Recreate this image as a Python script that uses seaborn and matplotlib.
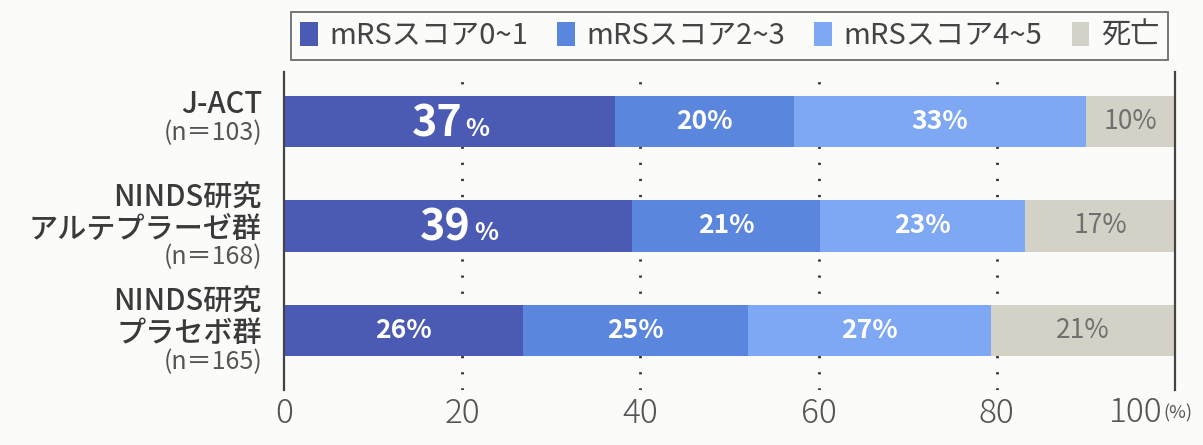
import matplotlib
matplotlib.use("Agg")
import matplotlib.pyplot as plt
import seaborn as sns
from matplotlib.patches import Patch

# data
groups = ["J-ACT", "NINDS研究\nアルテプラーゼ群", "NINDS研究\nプラセボ群"]
n_labels = ["(n＝103)", "(n＝168)", "(n＝165)"]
categories = ["mRSスコア0~1", "mRSスコア2~3", "mRSスコア4~5", "死亡"]
# segment widths as drawn (percent)
score01 = [37.1, 39.1, 26.8]
score23 = [20.1, 21.1, 25.3]
score45 = [32.8, 23.0, 27.2]
death = [10.0, 16.8, 20.7]
# printed percentages
pct01 = [37, 39, 26]
pct23 = [20, 21, 25]
pct45 = [33, 23, 27]
pct_death = [10, 17, 21]
big_first = [True, True, False]

colors = ["#4B5BB4", "#5B86DD", "#7FA8F4", "#D4D2C7"]
bg = "#FBFBF9"

sns.set_theme(style="white")
plt.rcParams['font.family'] = ['Noto Sans CJK JP', 'DejaVu Sans']

fig = plt.figure(figsize=(12.03, 4.45), dpi=100, facecolor=bg)
ax = fig.add_axes([284 / 1203, 1 - 390 / 445, 891 / 1203, 318 / 445])
ax.set_facecolor(bg)

segments = [score01, score23, score45, death]
labels = [pct01, pct23, pct45, pct_death]

# stacked bars: draw cumulative totals, widest first
cums = []
run = [0, 0, 0]
for seg in segments:
    run = [a + b for a, b in zip(run, seg)]
    cums.append(run)
for k in reversed(range(4)):
    sns.barplot(x=cums[k], y=groups, orient="h", color=colors[k], saturation=1,
                width=0.49, linewidth=0, ax=ax)

ax.set_xlim(0, 100)
ax.set_ylim(2.57, -0.474)

# dotted grid lines
for gx in [20, 40, 60, 80]:
    ax.axvline(gx, color="#333333", lw=2.0, ls=(0, (0.8, 5.0)), zorder=0.5)

for s in ["top", "bottom"]:
    ax.spines[s].set_visible(False)
for s in ["left", "right"]:
    ax.spines[s].set_color("#444444")
    ax.spines[s].set_linewidth(1.6)

ax.set_yticks([0, 1, 2])
ax.set_yticklabels([])
ax.set_ylabel("")
ax.set_xlabel("")
ax.set_xticks([0, 20, 40, 60, 80, 100])
ax.set_xticklabels(["0", "20", "40", "60", "80", ""])
ax.tick_params(axis="x", length=0, pad=5, labelsize=24, labelcolor="#555555")
ax.tick_params(axis="y", length=0)
for t in ax.get_xticklabels():
    t.set_fontweight("light")
ax.annotate("100", xy=(100, 0), xycoords=("data", "axes fraction"), xytext=(-13, -5),
            textcoords="offset pixels", ha="right", va="top", fontsize=24,
            color="#555555", fontweight="light", annotation_clip=False)
ax.annotate("(%)", xy=(100, 0), xycoords=("data", "axes fraction"), xytext=(-12, -14),
            textcoords="offset pixels", ha="left", va="top", fontsize=13,
            color="#555555", annotation_clip=False)

# group labels on the left
for i, (name, nl) in enumerate(zip(groups, n_labels)):
    lines = name.count("\n") + 1
    h = 31 * lines + 27
    top = h / 2 + 4 - 4 * (lines - 1)
    ax.annotate(name, xy=(0, i), xytext=(-22, top), textcoords="offset pixels",
                ha="right", va="top", fontsize=21, fontweight="medium",
                color="#3A3A3A", linespacing=1.05, annotation_clip=False)
    ax.annotate(nl, xy=(0, i), xytext=(-22, top - 31 * lines - 1), textcoords="offset pixels",
                ha="right", va="top", fontsize=18, color="#555555",
                annotation_clip=False)

# value labels inside segments
for k in range(4):
    for i in range(3):
        left = cums[k][i] - segments[k][i]
        cx = left + segments[k][i] / 2
        txt_color = "white" if k < 3 else "#707070"
        if k == 0 and big_first[i]:
            ax.annotate(str(labels[k][i]), xy=(cx, i), xytext=(13, -2),
                        textcoords="offset pixels", ha="right", va="center",
                        fontsize=31, fontweight="bold", color=txt_color)
            ax.annotate("%", xy=(cx, i), xytext=(16, -7),
                        textcoords="offset pixels", ha="left", va="center",
                        fontsize=18, fontweight="bold", color=txt_color)
        else:
            ax.annotate(f"{labels[k][i]}%", xy=(cx, i), xytext=(0, 0),
                        textcoords="offset pixels", ha="center", va="center",
                        fontsize=19, fontweight="bold" if k < 3 else "normal",
                        color=txt_color)

handles = [Patch(facecolor=c, edgecolor="none", label=l) for c, l in zip(colors, categories)]
leg = ax.legend(handles=handles, loc="lower center", bbox_to_anchor=(0.5, 1.038), ncol=4,
                frameon=True, fancybox=False, fontsize=21, handlelength=0.6,
                handleheight=0.9, handletextpad=0.4, columnspacing=1.0,
                borderpad=0.3, borderaxespad=0, labelcolor="#444444")
leg.get_frame().set_edgecolor("#555555")
leg.get_frame().set_linewidth(1.4)
leg.get_frame().set_facecolor(bg)

fig.savefig("out.png", dpi=100, facecolor=bg)
